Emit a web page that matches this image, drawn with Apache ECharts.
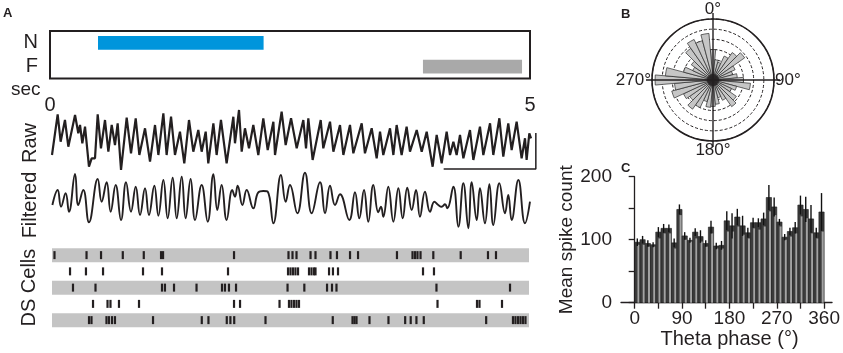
<!DOCTYPE html>
<html>
<head>
<meta charset="utf-8">
<script src="https://cdn.jsdelivr.net/npm/echarts@6.0.0/dist/echarts.min.js"></script>
<style>
  html, body { margin: 0; padding: 0; background: #fff; }
  #chart { width: 843px; height: 353px; }
</style>
</head>
<body>
<div id="chart"></div>
<script>
// ---- data ----
// panel A, stimulus epochs (seconds)
const epochLabels = ['N', 'F'];
const epochStart = [0.50, 3.885];
const epochEnd = [2.225, 4.917];

// raw LFP, [time s, amplitude a.u.]
const rawTrace = [
  [0.000, -12], [0.059, 28.7], [0.090, 1.3], [0.135, 23], [0.170, -3.7], [0.240, 28], [0.274, 9.7], [0.292, 18],
  [0.316, -0.3], [0.344, 16.3], [0.385, -23.7], [0.413, -15.3], [0.448, -15.3], [0.476, 28.7], [0.510, -5.3],
  [0.552, 23], [0.587, -8.7], [0.622, 18], [0.656, -2], [0.684, 19.7], [0.719, -27], [0.778, 25.3], [0.823, -10.3],
  [0.872, 24.7], [0.910, -12], [0.969, 14.7], [1.021, -18.7], [1.073, 18], [1.108, -12], [1.160, 29.7], [1.194, -12],
  [1.240, 26.3], [1.281, -12], [1.333, 11.3], [1.378, -20.3], [1.427, 23], [1.472, -8.7], [1.524, 13], [1.559, -8.7],
  [1.601, 11.3], [1.628, -20.3], [1.681, 19.7], [1.715, -12], [1.760, 23], [1.819, -20.3], [1.889, 26.3], [1.906, -0.3],
  [1.948, 33], [1.976, -8.7], [2.010, 14.7], [2.052, -5.3], [2.097, 18], [2.149, -12], [2.201, 24.7], [2.247, -7],
  [2.306, 21.3], [2.323, -12], [2.392, 31.3], [2.434, -2], [2.490, 24.7], [2.549, -5.3], [2.618, 23], [2.646, -5.3],
  [2.670, 24.7], [2.715, -17], [2.799, 23], [2.826, -5.3], [2.896, 21.3], [2.931, -8.7], [3.000, 18], [3.035, -12],
  [3.104, 18], [3.139, -10.3], [3.226, 19.7], [3.260, -10.3], [3.330, 14.7], [3.382, -15.3], [3.417, 11.3], [3.451, -12],
  [3.521, 14.7], [3.556, -12], [3.590, 18], [3.642, -12], [3.694, 16.3], [3.729, -8.7], [3.799, 13], [3.851, -8.7],
  [3.903, 11.3], [3.965, -23.7], [4.007, 8], [4.059, -20.3], [4.111, 11.3], [4.146, -12], [4.181, 1.3], [4.215, -12],
  [4.250, 8], [4.285, -15.3], [4.354, 13], [4.389, -17], [4.458, 16.3], [4.493, -12], [4.563, 19.7], [4.597, -12],
  [4.660, 24.7], [4.701, -13.7], [4.753, 19.7], [4.788, -7], [4.840, 21.3], [4.892, -15.3], [4.927, 4.7], [4.944, -17],
  [4.972, 9.7], [4.990, 4.7]
];

// theta-filtered LFP, peaks and troughs [time s, amplitude a.u.]
const filteredTrace = [
  [0.004, 0], [0.059, 15], [0.094, -1.7], [0.142, 11.7], [0.177, -6.7], [0.240, 31], [0.274, 0], [0.326, 15],
  [0.385, -17.3], [0.476, 26], [0.517, 3.3], [0.569, 22.7], [0.611, -6.7], [0.663, 20], [0.719, -15], [0.771, 22.7],
  [0.823, -6.7], [0.872, 18.3], [0.917, -10], [0.969, 16.7], [1.010, -10], [1.066, 19.3], [1.108, -10.7], [1.160, 25],
  [1.205, -13.3], [1.257, 27.3], [1.299, -13.3], [1.351, 28.3], [1.392, -13.3], [1.444, 26], [1.490, -15], [1.559, 20],
  [1.622, -16.7], [1.681, 30.7], [1.722, -5], [1.767, 20], [1.819, -15], [1.878, 15], [1.906, 8.3], [1.934, 19.3],
  [1.983, 0], [2.028, 15], [2.097, -3.3], [2.149, 12.7], [2.201, 14], [2.247, 13.3], [2.306, -18.3], [2.385, 30],
  [2.434, 3.3], [2.479, 20], [2.556, -8.3], [2.635, 32.3], [2.705, -8.3], [2.792, 22.7], [2.844, -8.3], [2.896, 19.3],
  [2.948, 0], [3.000, 10.7], [3.097, -15], [3.156, 12.7], [3.201, -13.3], [3.250, 15], [3.295, -16.7], [3.347, 20],
  [3.399, -7.3], [3.427, -1.7], [3.451, -11.7], [3.503, 18.3], [3.556, -16.7], [3.608, 16.7], [3.653, -13.3], [3.701, 17.3],
  [3.747, -5], [3.792, 15], [3.833, -11.7], [3.885, 13.3], [3.938, -6.7], [3.983, 3.3], [4.024, 0], [4.059, -1.7],
  [4.094, 0.7], [4.118, -3.3], [4.181, 18.3], [4.233, -21.7], [4.285, 21.7], [4.337, -23.3], [4.372, 22.7], [4.424, -15],
  [4.458, 16.7], [4.510, -18.3], [4.556, 20.7], [4.597, -20], [4.660, 21.7], [4.719, -8.3], [4.753, 10], [4.788, -15],
  [4.858, 25], [4.927, -18.3], [4.979, 3.3]
];

// scale bar of the raw trace
const scaleBar = [[4.08, -26], [5.04, -26], [5.04, 10]];

// DS cell spike times (s), one array per cell
const cell1 = [0.026, 0.362, 0.514, 0.742, 0.962, 1.143, 1.164, 1.908, 2.479, 2.521, 2.563, 2.710, 2.762, 2.919, 2.987,
  3.124, 3.208, 3.616, 3.779, 3.805, 3.831, 3.863, 3.997, 4.284, 4.570, 4.654];
const cell2 = [0.189, 0.356, 0.535, 0.954, 1.153, 1.845, 2.474, 2.500, 2.526, 2.552, 2.579, 2.694, 2.720, 2.746, 2.762,
  2.904, 2.945, 2.998, 3.889, 4.004];
const cell3 = [0.220, 0.456, 1.153, 1.184, 1.279, 1.515, 1.782, 1.813, 1.855, 1.929, 2.469, 2.645, 2.883, 2.935, 2.982,
  4.030, 4.801];
const cell4 = [0.430, 0.582, 0.613, 0.702, 0.912, 1.908, 1.971, 2.385, 2.484, 2.510, 2.537, 2.563, 2.589, 4.041, 4.455,
  4.481, 4.717];
const cell5 = [0.388, 0.414, 0.571, 0.597, 0.629, 0.660, 1.059, 1.570, 1.640, 1.832, 1.870, 1.910, 2.238, 2.943, 3.150,
  3.171, 3.192, 3.328, 3.527, 3.702, 3.760, 3.820, 3.897, 4.551, 4.832, 4.858, 4.885, 4.911, 4.937, 4.963];
const cellRows = ['1', '2', '3', '4', '5'];
const shadedRows = [0, 2, 4];

// panel B, rose plot (10 deg bins)
const roseBins = ['0', '10', '20', '30', '40', '50', '60', '70', '80', '90', '100', '110', '120', '130', '140', '150', '160', '170',
  '180', '190', '200', '210', '220', '230', '240', '250', '260', '270', '280', '290', '300', '310', '320', '330', '340', '350'];
const roseCounts = [30, 20, 18, 26, 33, 38, 24, 20, 24, 30, 37, 24, 20, 28, 32, 22, 18, 24,
  26, 27, 22, 30, 35, 28, 32, 42, 38, 57, 47, 30, 22, 26, 38, 44, 40, 46];

// panel C, spike count per theta phase bin
const phaseBinStart = [0, 10, 20, 30, 40, 50, 60, 70, 80, 90, 100, 110, 120, 130, 140, 150, 160, 170,
  180, 190, 200, 210, 220, 230, 240, 250, 260, 270, 280, 290, 300, 310, 320, 330, 340, 350];
const meanSpikes = [96, 100, 94, 92, 112, 118, 118, 95, 148, 106, 99, 112, 105, 94, 120, 90, 91, 130,
  122, 136, 122, 111, 127, 127, 133, 167, 152, 128, 104, 113, 119, 155, 148, 133, 111, 144];
const lightSpikes = [92, 92, 89, 89, 102, 110, 110, 86, 139, 100, 97, 102, 97, 89, 110, 86, 86, 113,
  113, 121, 108, 102, 118, 116, 121, 145, 139, 121, 100, 105, 110, 137, 134, 110, 102, 113];
const spikeErr = [6, 6, 5, 4, 8, 7, 6, 7, 8, 6, 4, 6, 10, 5, 10, 5, 7, 15,
  20, 13, 16, 8, 8, 7, 10, 20, 15, 5, 5, 6, 9, 15, 20, 22, 8, 30];
const phaseTicks = [0, 45, 90, 135, 180, 225, 270, 315, 360];
const phaseLabels = [0, 90, 180, 270, 360];

// ---- chart ----
const FONT = 'Liberation Sans, Arial, sans-serif';
const INK = '#231f20';
const epochColors = ['#0095dc', '#a9a9a9'];

const chart = echarts.init(document.getElementById('chart'));

const spikeData = [];
[cell1, cell2, cell3, cell4, cell5].forEach((cell, row) => {
  cell.forEach((t) => spikeData.push([t, row]));
});

const hiddenValue = (gridIndex, min, max) => ({
  gridIndex,
  type: 'value',
  min,
  max,
  show: false,
});

const option = {
  animation: false,
  textStyle: { fontFamily: FONT, color: INK },
  title: [
    { text: 'A', left: 3, top: 7, padding: 0, textStyle: { fontSize: 13, fontWeight: 'bold', color: INK, fontFamily: FONT } },
    { text: 'B', left: 621, top: 8, padding: 0, textStyle: { fontSize: 13, fontWeight: 'bold', color: INK, fontFamily: FONT } },
    { text: 'C', left: 621, top: 162, padding: 0, textStyle: { fontSize: 13, fontWeight: 'bold', color: INK, fontFamily: FONT } },
  ],
  grid: [
    { left: 50, top: 31, width: 480, height: 47.5, show: true, borderColor: INK, borderWidth: 2 },
    { left: 52, top: 108, width: 484.8, height: 70 },
    { left: 52, top: 170, width: 480, height: 70 },
    { left: 52, top: 247, width: 477, height: 81.25 },
    { left: 621, top: 176.7, right: 10, bottom: 50.3 },
  ],
  xAxis: [
    {
      gridIndex: 0, type: 'value', min: 0, max: 5, interval: 1, position: 'bottom', offset: 11.5,
      axisLine: { lineStyle: { color: INK, width: 1.3 } },
      axisTick: { inside: true, length: 5, lineStyle: { color: INK, width: 1.3 } },
      axisLabel: { show: false },
      splitLine: { show: false },
    },
    {
      gridIndex: 0, type: 'value', min: 0, max: 5, interval: 1, position: 'bottom', offset: 11.5,
      axisLine: { lineStyle: { color: INK, width: 1.3 } },
      axisTick: { inside: false, length: 5, lineStyle: { color: INK, width: 1.3 } },
      axisLabel: {
        fontSize: 20, margin: 5, color: INK, fontFamily: FONT,
        formatter: (v) => (v === 0 || v === 5 ? String(v) : ''),
      },
      splitLine: { show: false },
      name: 'sec', nameLocation: 'start', nameGap: 6,
      nameTextStyle: { fontSize: 19, color: INK, fontFamily: FONT },
    },
    hiddenValue(1, 0, 5.05),
    hiddenValue(2, 0, 5),
    hiddenValue(3, 0, 5),
    {
      gridIndex: 4, type: 'value', min: -26, max: 375,
      axisLine: { lineStyle: { color: INK, width: 1.3 } },
      axisTick: { customValues: phaseTicks, length: 6, lineStyle: { color: INK, width: 1.3 } },
      axisLabel: { customValues: phaseLabels, fontSize: 19, margin: 7, color: INK, fontFamily: FONT },
      splitLine: { show: false },
      name: 'Theta phase (°)', nameLocation: 'middle', nameGap: 27,
      nameTextStyle: { fontSize: 20, color: INK, fontFamily: FONT, padding: [0, 0, 0, 6] },
    },
  ],
  yAxis: [
    {
      gridIndex: 0, type: 'category', data: epochLabels.slice().reverse(),
      axisLine: { show: false }, axisTick: { show: false },
      axisLabel: { interval: 0, fontSize: 20, margin: 12, color: INK, fontFamily: FONT },
    },
    {
      gridIndex: 1, type: 'value', min: -35, max: 35,
      axisLine: { show: false }, axisTick: { show: false }, axisLabel: { show: false }, splitLine: { show: false },
      name: 'Raw', nameLocation: 'middle', nameRotate: 90, nameGap: 12,
      nameTextStyle: { fontSize: 20, color: INK, fontFamily: FONT },
    },
    {
      gridIndex: 2, type: 'value', min: -35, max: 35,
      axisLine: { show: false }, axisTick: { show: false }, axisLabel: { show: false }, splitLine: { show: false },
      name: 'Filtered', nameLocation: 'middle', nameRotate: 90, nameGap: 12,
      nameTextStyle: { fontSize: 20, color: INK, fontFamily: FONT },
    },
    {
      gridIndex: 3, type: 'category', data: cellRows, inverse: true,
      axisLine: { show: false }, axisTick: { show: false }, axisLabel: { show: false }, splitLine: { show: false },
      name: 'DS Cells', nameLocation: 'middle', nameRotate: 90, nameGap: 13,
      nameTextStyle: { fontSize: 20, color: INK, fontFamily: FONT },
    },
    {
      gridIndex: 4, type: 'value', min: 0, max: 200, interval: 50,
      axisLine: { show: true, lineStyle: { color: INK, width: 1.3 } },
      axisTick: { show: true, length: 6, lineStyle: { color: INK, width: 1.3 } },
      axisLabel: {
        fontSize: 19, margin: 9, color: INK, fontFamily: FONT,
        formatter: (v) => (v % 100 === 0 ? String(v) : ''),
      },
      splitLine: { show: false },
      name: 'Mean spike count', nameLocation: 'middle', nameRotate: 90, nameGap: 42,
      nameTextStyle: { fontSize: 19, color: INK, fontFamily: FONT },
    },
  ],
  polar: [
    { center: [713, 80], radius: 61 },
    { center: [713, 80], radius: 61 },
  ],
  angleAxis: [
    {
      polarIndex: 0, type: 'value', min: 0, max: 360, interval: 90, startAngle: 90, clockwise: true, z: 10,
      axisLine: { lineStyle: { color: INK, width: 1.6 } },
      axisTick: { show: true, inside: false, length: 6, lineStyle: { color: INK, width: 1.4 } },
      axisLabel: {
        fontSize: 17, margin: 1, color: INK, fontFamily: FONT,
        formatter: (v) => (v === 360 ? '' : v + '°'),
      },
      splitLine: { show: true, lineStyle: { color: INK, width: 1.4 } },
    },
    { polarIndex: 1, type: 'category', data: roseBins, startAngle: 95, clockwise: true, show: false },
  ],
  radiusAxis: [
    {
      polarIndex: 0, min: 0, max: 60, interval: 10,
      axisLine: { show: false }, axisTick: { show: false }, axisLabel: { show: false },
      splitLine: { show: true, lineStyle: { color: INK, width: 1, type: [3, 2] } },
    },
    { polarIndex: 1, min: 0, max: 60, show: false },
  ],
  series: [
    {
      name: 'epochs', type: 'custom', xAxisIndex: 0, yAxisIndex: 0,
      data: epochLabels.map((l, i) => [epochStart[i], epochEnd[i], l]),
      encode: { x: [0, 1], y: 2 },
      renderItem: (params, api) => {
        const s = api.coord([api.value(0), api.value(2)]);
        const e = api.coord([api.value(1), api.value(2)]);
        const h = api.size([0, 1])[1] * 0.58;
        return {
          type: 'rect',
          shape: { x: s[0], y: s[1] - h / 2, width: e[0] - s[0], height: h },
          style: { fill: epochColors[params.dataIndex] },
        };
      },
    },
    {
      name: 'raw', type: 'line', xAxisIndex: 2, yAxisIndex: 1, data: rawTrace,
      showSymbol: false, lineStyle: { color: INK, width: 2.2 },
    },
    {
      name: 'scale', type: 'line', xAxisIndex: 2, yAxisIndex: 1, data: scaleBar, clip: false,
      showSymbol: false, lineStyle: { color: INK, width: 1.5 },
    },
    {
      name: 'filtered', type: 'line', xAxisIndex: 3, yAxisIndex: 2, data: filteredTrace,
      showSymbol: false, smooth: 0.45, lineStyle: { color: INK, width: 1.9 },
    },
    {
      name: 'rowBands', type: 'custom', xAxisIndex: 4, yAxisIndex: 3,
      data: shadedRows.map((r) => [0, r]),
      renderItem: (params, api) => {
        const a = api.coord([0, api.value(1)]);
        const b = api.coord([5, api.value(1)]);
        return {
          type: 'rect',
          shape: { x: a[0], y: a[1] - 7, width: b[0] - a[0], height: 14 },
          style: { fill: '#c4c4c4' },
        };
      },
    },
    {
      name: 'spikes', type: 'custom', xAxisIndex: 4, yAxisIndex: 3, data: spikeData,
      renderItem: (params, api) => {
        const p = api.coord([api.value(0), api.value(1)]);
        return {
          type: 'rect',
          shape: { x: p[0] - 1.1, y: p[1] - 4, width: 2.2, height: 8 },
          style: { fill: INK },
        };
      },
    },
    {
      name: 'rose', type: 'bar', coordinateSystem: 'polar', polarIndex: 1, data: roseCounts,
      barCategoryGap: '0%',
      itemStyle: { color: '#c6c6c6', borderColor: '#2a2a2a', borderWidth: 0.7 },
    },
    {
      name: 'centre', type: 'scatter', coordinateSystem: 'polar', polarIndex: 0, data: [[0, 0]],
      symbolSize: 12, itemStyle: { color: INK }, z: 12,
    },
    {
      name: 'phase', type: 'custom', xAxisIndex: 5, yAxisIndex: 4,
      data: phaseBinStart.map((b, i) => [b, meanSpikes[i], lightSpikes[i], spikeErr[i]]),
      renderItem: (params, api) => {
        const b = api.value(0), m = api.value(1), l = api.value(2), e = api.value(3);
        const base = api.coord([b, 0]);
        const right = api.coord([b + 10, 0]);
        const top = api.coord([b, m]);
        const lightL = api.coord([b + 5.3, l]);
        const lightR = api.coord([b + 9.2, 0]);
        const eHi = api.coord([b + 5, m + e]);
        const eLo = api.coord([b + 5, m - e]);
        return {
          type: 'group',
          children: [
            {
              type: 'rect',
              shape: { x: base[0], y: top[1], width: right[0] - base[0], height: base[1] - top[1] },
              style: { fill: '#3c3c3c', stroke: '#1c1c1c', lineWidth: 0.6 },
            },
            {
              type: 'rect',
              shape: { x: lightL[0], y: lightL[1], width: lightR[0] - lightL[0], height: base[1] - lightL[1] },
              style: { fill: '#a3a3a3' },
            },
            {
              type: 'line',
              shape: { x1: eHi[0], y1: eHi[1], x2: eLo[0], y2: eLo[1] },
              style: { stroke: '#111', lineWidth: 1.4 },
            },
          ],
        };
      },
    },
  ],
};

chart.setOption(option);
</script>
</body>
</html>
